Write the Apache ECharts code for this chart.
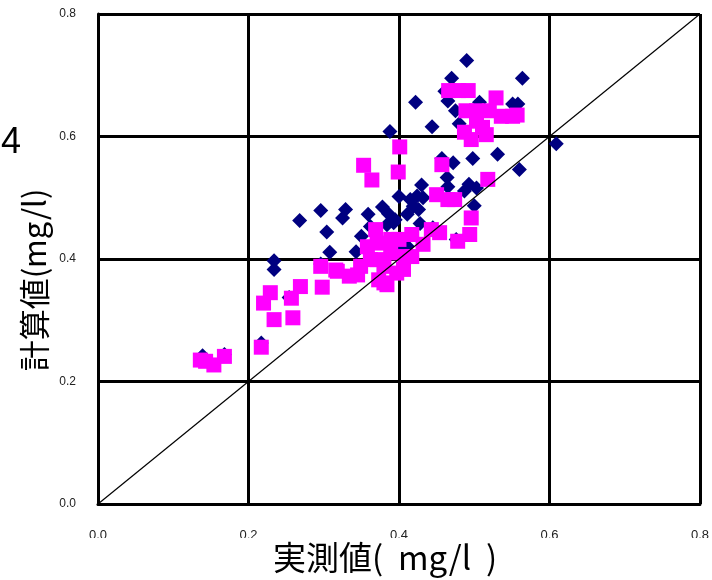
<!DOCTYPE html>
<html>
<head>
<meta charset="utf-8">
<script src="https://cdn.jsdelivr.net/npm/echarts@6/dist/echarts.min.js"></script>
<style>
  html, body { margin: 0; padding: 0; background: #fff; }
  #chart { width: 712px; height: 580px; }
</style>
</head>
<body>
<div id="chart"></div>
<script>
// 計算値 series (navy diamonds) [実測値, 計算値]
const navyPoints = [
  [0.490, 0.724], [0.564, 0.695], [0.470, 0.695], [0.422, 0.656], [0.461, 0.674],
  [0.465, 0.658], [0.475, 0.642], [0.507, 0.656], [0.551, 0.653], [0.558, 0.653],
  [0.444, 0.616], [0.480, 0.621], [0.388, 0.608], [0.609, 0.588], [0.457, 0.564],
  [0.472, 0.557], [0.498, 0.564], [0.531, 0.571], [0.560, 0.546], [0.464, 0.533],
  [0.465, 0.518], [0.493, 0.522], [0.487, 0.511], [0.503, 0.516], [0.500, 0.487],
  [0.430, 0.521], [0.424, 0.503], [0.415, 0.497], [0.432, 0.500], [0.419, 0.486],
  [0.426, 0.481], [0.400, 0.502], [0.378, 0.485], [0.386, 0.474], [0.395, 0.464],
  [0.411, 0.473], [0.359, 0.473], [0.329, 0.481], [0.325, 0.467], [0.296, 0.479],
  [0.268, 0.463], [0.304, 0.444], [0.362, 0.453], [0.350, 0.437], [0.308, 0.411],
  [0.343, 0.412], [0.234, 0.397], [0.234, 0.383], [0.428, 0.458], [0.393, 0.459],
  [0.384, 0.456], [0.411, 0.421], [0.445, 0.451], [0.476, 0.432], [0.406, 0.419],
  [0.139, 0.242], [0.168, 0.244], [0.217, 0.263], [0.254, 0.337], [0.296, 0.392]
]
// magenta squares
const magentaPoints = [
  [0.466, 0.675], [0.479, 0.675], [0.492, 0.675], [0.529, 0.663], [0.489, 0.642],
  [0.503, 0.642], [0.520, 0.642], [0.536, 0.633], [0.551, 0.633], [0.503, 0.625],
  [0.511, 0.615], [0.487, 0.607], [0.496, 0.595], [0.516, 0.603], [0.401, 0.583],
  [0.353, 0.553], [0.399, 0.542], [0.364, 0.529], [0.457, 0.554], [0.518, 0.530],
  [0.450, 0.505], [0.465, 0.497], [0.474, 0.497], [0.496, 0.467], [0.494, 0.440],
  [0.478, 0.429], [0.454, 0.443], [0.443, 0.448], [0.417, 0.440], [0.400, 0.432],
  [0.369, 0.448], [0.358, 0.420], [0.371, 0.426], [0.389, 0.432], [0.432, 0.424],
  [0.408, 0.404], [0.417, 0.404], [0.406, 0.383], [0.371, 0.399], [0.380, 0.388],
  [0.373, 0.366], [0.384, 0.358], [0.397, 0.377], [0.389, 0.410], [0.362, 0.399],
  [0.318, 0.380], [0.334, 0.372], [0.345, 0.374], [0.296, 0.388], [0.316, 0.382],
  [0.349, 0.388], [0.269, 0.355], [0.298, 0.354], [0.220, 0.328], [0.229, 0.345],
  [0.234, 0.301], [0.257, 0.336], [0.259, 0.304], [0.217, 0.256], [0.143, 0.233],
  [0.154, 0.227], [0.168, 0.241], [0.136, 0.235], [0.380, 0.361], [0.557, 0.635]
]
const diagonal = [[0, 0], [0.8, 0.8]]
const axisMin = 0
const axisMax = 0.8
const axisStep = 0.2

const chart = echarts.init(document.getElementById('chart'))

const axisCommon = {
  type: 'value',
  min: axisMin,
  max: axisMax,
  interval: axisStep,
  axisLine: { show: true, onZero: false, lineStyle: { color: '#000', width: 3 } },
  axisTick: { show: false },
  splitLine: { show: true, lineStyle: { color: '#000', width: 3 } },
  axisLabel: {
    color: '#222',
    fontFamily: 'Liberation Sans',
    fontSize: 12,
    formatter: function (v) { return v.toFixed(1) },
  },
}

chart.setOption({
  animation: false,
  backgroundColor: '#fff',
  grid: { left: 98, right: 6, top: 14, bottom: 76 },
  xAxis: Object.assign({}, axisCommon, {
    axisLabel: Object.assign({}, axisCommon.axisLabel, { margin: 25, fontSize: 13 }),
  }),
  yAxis: Object.assign({}, axisCommon, {
    axisLabel: Object.assign({}, axisCommon.axisLabel, { margin: 22 }),
  }),
  series: [
    {
      type: 'scatter',
      data: navyPoints,
      symbol: 'diamond',
      symbolSize: [15, 15],
      itemStyle: { color: '#000080', opacity: 1 },
      z: 3,
    },
    {
      type: 'scatter',
      data: magentaPoints,
      symbol: 'rect',
      symbolSize: 15,
      itemStyle: { color: '#ff00ff', opacity: 1 },
      z: 4,
    },
    {
      type: 'line',
      data: diagonal,
      symbol: 'none',
      lineStyle: { color: '#000', width: 1.2 },
      z: 5,
    },
  ],
  graphic: [
    // white band that clips the lower half of the x tick labels
    { type: 'rect', shape: { x: 0, y: 538, width: 712, height: 42 }, style: { fill: '#fff' }, z: 100 },
    {
      type: 'text', x: 385, y: 557, z: 101,
      style: {
        text: '実測値(  mg/l  )', fill: '#000', fontSize: 33,
        fontFamily: 'Noto Sans CJK JP', align: 'center', verticalAlign: 'middle',
      },
    },
    {
      type: 'text', x: 34, y: 280, rotation: Math.PI / 2, z: 101,
      style: {
        text: '計算値(mg/l)', fill: '#000', fontSize: 31,
        fontFamily: 'Noto Sans CJK JP', align: 'center', verticalAlign: 'middle',
      },
    },
    {
      type: 'text', x: 1, y: 143, z: 101,
      style: {
        text: '4', fill: '#000', fontSize: 36,
        fontFamily: 'Liberation Sans', align: 'left', verticalAlign: 'middle',
      },
    },
  ],
})
</script>
</body>
</html>
